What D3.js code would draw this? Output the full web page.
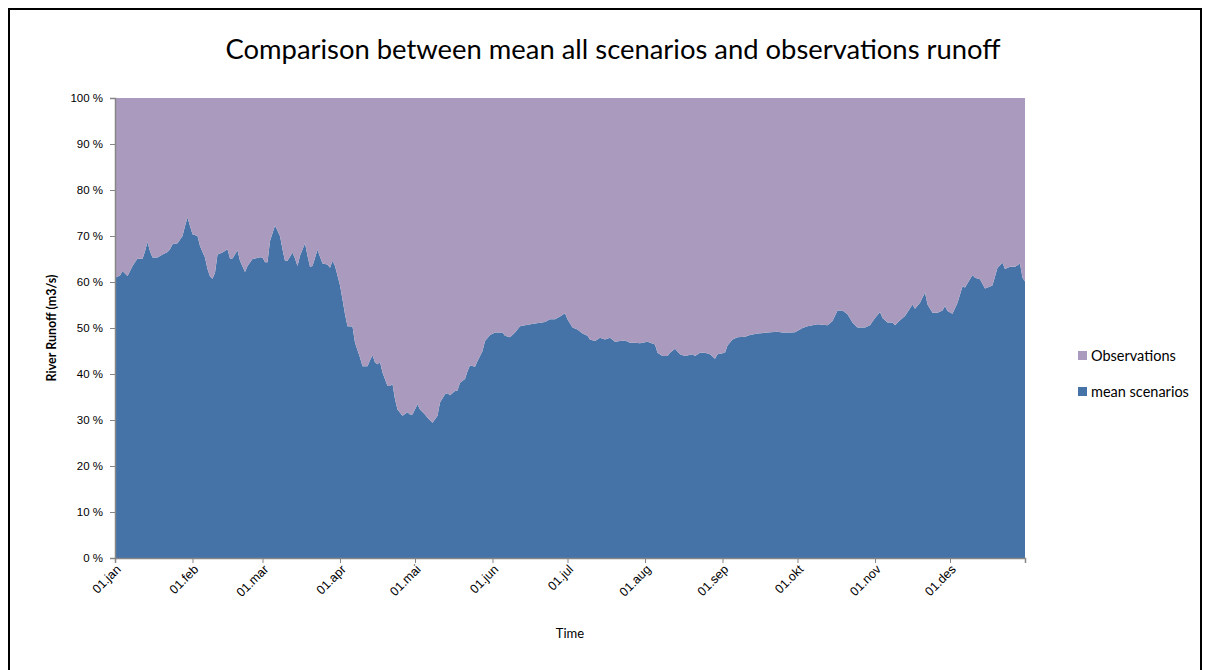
<!DOCTYPE html>
<html>
<head>
<meta charset="utf-8">
<script src="https://cdn.jsdelivr.net/npm/d3@7"></script>
<style>
  body { margin: 0; background: #fff; }
  svg { display: block; font-family: Lato, "Open Sans", sans-serif; }
</style>
</head>
<body>
<script>
// day of year (0 = 1 Jan) for each reading
const dayOfYear = [
  0, 2, 3, 5, 7, 9, 11, 12, 13, 14, 15, 17, 19, 21, 22, 23, 25, 27, 28, 29,
  30, 31, 33, 34, 36, 37, 38, 39, 40, 41, 43, 45, 46, 47, 49, 50, 52, 53, 55, 56,
  58, 59, 60, 61, 62, 64, 66, 67, 68, 69, 71, 72, 73, 74, 76, 77, 78, 79, 81, 83,
  85, 86, 87, 88, 90, 91, 92, 93, 95, 96, 98, 99, 101, 102, 103, 104, 105, 106, 107, 109,
  110, 111, 112, 113, 115, 117, 118, 119, 121, 122, 124, 125, 127, 129, 130, 132, 133, 134, 136, 137,
  138, 140, 141, 142, 144, 145, 147, 148, 150, 152, 155, 156, 158, 160, 162, 165, 168, 172, 174, 176,
  178, 180, 181, 183, 185, 187, 189, 190, 192, 194, 196, 198, 200, 202, 204, 206, 208, 210, 213, 216,
  217, 219, 221, 222, 224, 226, 228, 231, 232, 234, 236, 238, 240, 241, 244, 245, 247, 249, 252, 254,
  257, 261, 265, 267, 270, 272, 275, 277, 281, 285, 287, 289, 291, 293, 295, 297, 300, 302, 304, 306,
  307, 309, 311, 312, 314, 316, 319, 320, 322, 324, 325, 327, 329, 331, 332, 333, 335, 337, 339, 340,
  343, 344, 346, 348, 350, 351, 353, 355, 356, 358, 360, 362, 363, 364
];

// share of mean scenarios runoff (%)
const meanScenarios = [
  60.9, 61.4, 62.4, 61.3, 63.5, 65.1, 65.0, 66.7, 68.7, 66.7, 65.3, 65.3, 66.0, 66.5, 67.1, 68.2, 68.4, 70.0, 72.2, 74.0,
  72.2, 70.4, 70.0, 67.8, 65.3, 62.8, 61.2, 60.7, 62.0, 66.0, 66.4, 67.1, 65.1, 65.1, 66.9, 64.6, 62.2, 63.5, 65.0, 65.1,
  65.4, 65.3, 64.3, 64.3, 68.9, 72.3, 70.0, 67.1, 64.6, 64.6, 66.4, 65.1, 63.5, 65.7, 68.4, 65.7, 63.3, 63.5, 67.0, 64.0,
  63.8, 63.1, 64.6, 63.5, 59.3, 56.2, 53.0, 50.4, 50.3, 46.8, 43.6, 41.7, 41.7, 43.0, 44.1, 42.5, 42.1, 42.6, 40.3, 37.4,
  37.4, 37.8, 34.5, 32.3, 30.9, 31.7, 31.2, 31.2, 33.4, 32.3, 31.2, 30.5, 29.4, 30.9, 33.8, 35.6, 35.8, 35.4, 36.3, 36.4,
  38.1, 38.9, 40.6, 41.9, 41.6, 42.8, 45.0, 47.2, 48.5, 49.0, 49.0, 48.3, 48.0, 49.0, 50.4, 50.7, 51.0, 51.3, 51.9, 51.9,
  52.5, 53.2, 51.9, 50.1, 49.7, 48.8, 48.3, 47.5, 47.2, 47.9, 47.5, 47.9, 47.0, 47.2, 47.3, 46.8, 46.8, 46.7, 47.0, 46.4,
  44.6, 43.9, 43.9, 44.6, 45.5, 44.3, 43.9, 44.3, 43.9, 44.6, 44.6, 44.3, 43.3, 44.3, 44.6, 46.2, 47.5, 48.0, 48.1, 48.5,
  48.8, 49.0, 49.2, 49.0, 49.0, 49.1, 50.0, 50.4, 50.8, 50.6, 51.5, 53.8, 53.8, 53.0, 51.2, 50.1, 50.1, 50.6, 52.2, 53.5,
  52.2, 51.2, 51.2, 50.6, 51.7, 52.6, 55.1, 54.2, 55.5, 57.7, 55.1, 53.3, 53.3, 53.8, 54.8, 53.7, 53.1, 55.5, 59.0, 58.8,
  61.5, 60.9, 60.6, 58.6, 59.0, 59.3, 63.1, 64.2, 62.8, 63.3, 63.3, 64.0, 60.9, 60.1
];

// share of observations runoff (%)
const observations = meanScenarios.map(v => +(100 - v).toFixed(1));

const monthLabels = ["01.jan", "01.feb", "01.mar", "01.apr", "01.mai", "01.jun",
  "01.jul", "01.aug", "01.sep", "01.okt", "01.nov", "01.des"];
const seriesNames = ["mean scenarios", "Observations"];
const seriesColors = ["#4573a7", "#aa9abd"];

const width = 1212, height = 670;
const plot = { left: 115, top: 98, width: 910, height: 460 };

const svg = d3.select("body").append("svg")
  .attr("width", width)
  .attr("height", height);

// outer frame
svg.append("rect")
  .attr("x", 9).attr("y", 9)
  .attr("width", 1192).attr("height", 700)
  .attr("fill", "none")
  .attr("stroke", "#000")
  .attr("stroke-width", 2);

svg.append("text")
  .attr("x", 613).attr("y", 59)
  .attr("text-anchor", "middle")
  .style("font-size", "27.4px")
  .text("Comparison between mean all scenarios and observations runoff");

const g = svg.append("g")
  .attr("transform", "translate(" + plot.left + "," + plot.top + ")");

const rows = dayOfYear.map((d, i) => ({
  date: d3.timeDay.offset(new Date(2009, 0, 1), d),
  "mean scenarios": meanScenarios[i],
  "Observations": observations[i]
}));

const x = d3.scaleTime()
  .domain([new Date(2009, 0, 1), new Date(2009, 11, 31)])
  .range([0, plot.width]);

const y = d3.scaleLinear().domain([0, 1]).range([plot.height, 0]);

const stacked = d3.stack()
  .keys(seriesNames)
  .offset(d3.stackOffsetExpand)(rows);

const area = d3.area()
  .x(d => x(d.data.date))
  .y0(d => y(d[0]))
  .y1(d => y(d[1]));

g.selectAll(".layer")
  .data(stacked)
  .join("path")
  .attr("class", "layer")
  .attr("fill", (d, i) => seriesColors[i])
  .attr("d", area);

// y axis
const yAxis = g.append("g")
  .call(d3.axisLeft(y).ticks(10).tickSize(5).tickPadding(7)
    .tickFormat(d => Math.round(d * 100) + " %"));
yAxis.select(".domain").attr("stroke", "#868686").attr("stroke-width", 1.5);
yAxis.selectAll(".tick line").attr("stroke", "#868686");
yAxis.selectAll(".tick text").style("font-size", "11.5px").attr("fill", "#000");

// x axis
const monthStarts = d3.timeMonths(new Date(2009, 0, 1), new Date(2009, 11, 31));
const xAxis = g.append("g")
  .attr("transform", "translate(0," + plot.height + ")")
  .call(d3.axisBottom(x).tickValues(monthStarts).tickSize(5)
    .tickFormat((d, i) => monthLabels[i]));
xAxis.select(".domain").attr("stroke", "#868686").attr("stroke-width", 1.5);
xAxis.selectAll(".tick line").attr("stroke", "#868686");
xAxis.selectAll(".tick text")
  .style("font-size", "12.5px")
  .attr("fill", "#000")
  .attr("text-anchor", "end")
  .attr("dy", "0.35em")
  .attr("transform", "translate(3,9) rotate(-45)")
  .attr("y", 0);

svg.append("text")
  .attr("transform", "translate(56,328) rotate(-90)")
  .attr("text-anchor", "middle")
  .style("font-size", "12.5px")
  .style("font-weight", "bold")
  .text("River Runoff (m3/s)");

svg.append("text")
  .attr("x", 570).attr("y", 638)
  .attr("text-anchor", "middle")
  .style("font-size", "13px")
  .text("Time");

// legend, observations on top
const legend = svg.append("g").selectAll("g")
  .data([1, 0])
  .join("g")
  .attr("transform", (d, i) => "translate(1078," + (351 + i * 36) + ")");
legend.append("rect")
  .attr("width", 9).attr("height", 9)
  .attr("fill", d => seriesColors[d]);
legend.append("text")
  .attr("x", 13).attr("y", 9.5)
  .style("font-size", "14.5px")
  .text(d => seriesNames[d]);
</script>
</body>
</html>
